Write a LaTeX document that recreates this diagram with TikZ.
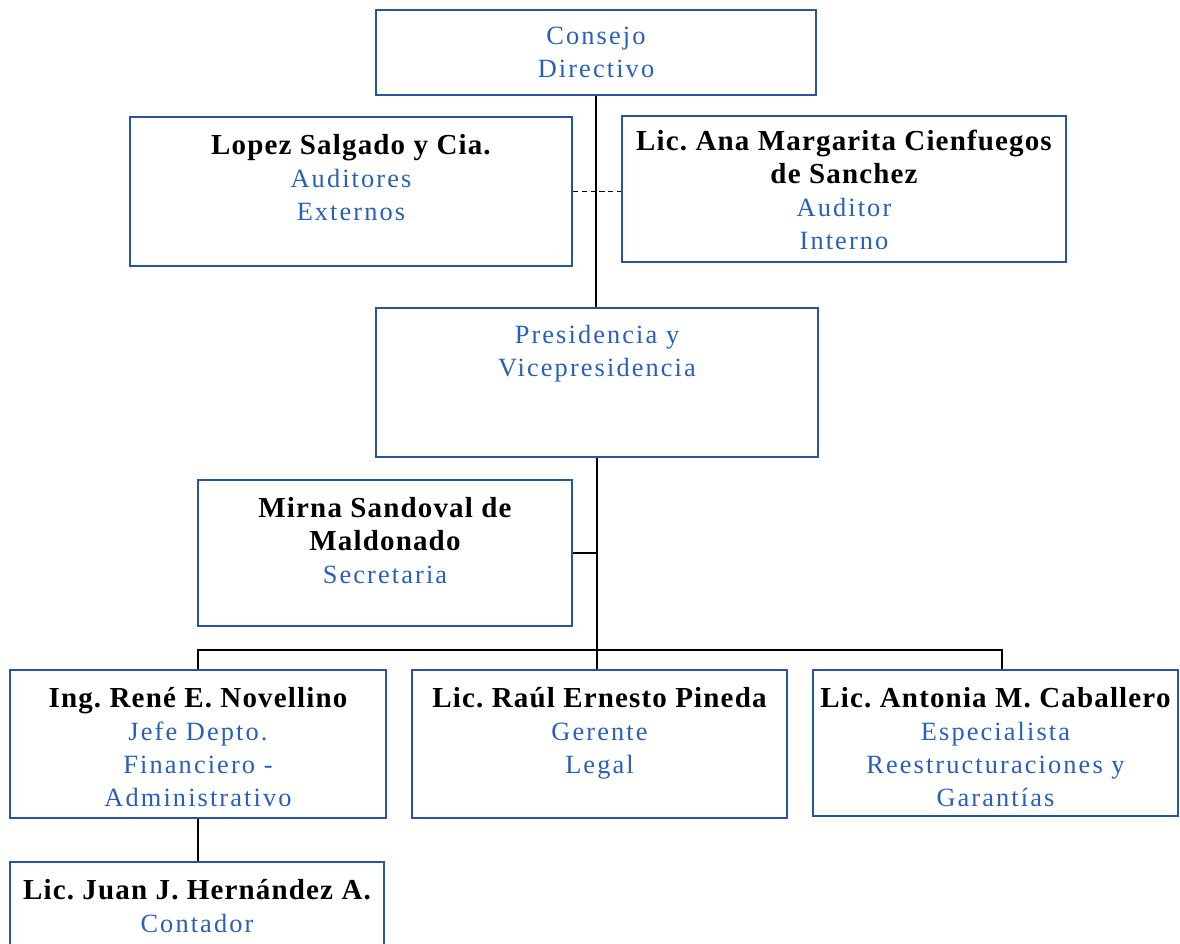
\documentclass[tikz,border=0pt]{standalone}
\usepackage{fontspec}
\setmainfont{Liberation Serif}
\newfontfamily\titlefont[LetterSpace=8]{Liberation Serif}
\newfontfamily\namefont[LetterSpace=4]{Liberation Serif}
\usepackage{tikz}
\frenchspacing
\definecolor{boxblue}{RGB}{40,85,155}
\definecolor{textblue}{RGB}{40,95,185}
\tikzset{
    orgbox/.style={draw=boxblue, line width=1.1pt, rectangle, inner sep=0pt},
    orgtext/.style={anchor=north, align=center, inner sep=0pt, yshift=-0.36cm,
        font=\fontsize{15}{18.7}\selectfont},
    link/.style={black, line width=1.1pt}}
\newcommand{\who}[1]{{\fontsize{16.5}{18.7}\selectfont\namefont\bfseries #1}}
\newcommand{\job}[1]{{\titlefont\color{textblue}#1}}

\begin{document}
\begin{tikzpicture}
        \clip (0,0) rectangle (23.6,-18.88);

                    \node[orgbox, minimum width=8.8cm, minimum height=1.7cm] (consejo) at (11.92,-1.05) {};
                    \node[orgbox, minimum width=8.84cm, minimum height=2.98cm] (lopez) at (7.02,-3.83) {};
                    \node[orgbox, minimum width=8.88cm, minimum height=2.92cm] (ana) at (16.88,-3.78) {};
                    \node[orgbox, minimum width=8.84cm, minimum height=2.98cm] (presid) at (11.94,-7.65) {};
                    \node[orgbox, minimum width=7.48cm, minimum height=2.92cm] (mirna) at (7.7,-11.06) {};
                    \node[orgbox, minimum width=7.52cm, minimum height=2.96cm] (rene) at (3.96,-14.88) {};
                    \node[orgbox, minimum width=7.5cm, minimum height=2.96cm] (raul) at (11.99,-14.88) {};
                    \node[orgbox, minimum width=7.3cm, minimum height=2.92cm] (antonia) at (19.91,-14.86) {};
                    \node[orgbox, minimum width=7.48cm, minimum height=2.96cm] (juan) at (3.94,-18.72) {};

                    \node[orgtext] (consejo-t) at (consejo.north) {\job{Consejo}\\ \job{Directivo}};
                    \node[orgtext] (lopez-t) at (lopez.north) {\who{Lopez Salgado y Cia.}\\ \job{Auditores}\\ \job{Externos}};
                    \node[orgtext, yshift=0.06cm] (ana-t) at (ana.north) {\who{Lic. Ana Margarita Cienfuegos}\\ \who{de Sanchez}\\ \job{Auditor}\\ \job{Interno}};
                    \node[orgtext] (presid-t) at (presid.north) {\job{Presidencia y}\\ \job{Vicepresidencia}};
                    \node[orgtext] (mirna-t) at (mirna.north) {\who{Mirna Sandoval de}\\ \who{Maldonado}\\ \job{Secretaria}};
                    \node[orgtext] (rene-t) at (rene.north) {\who{Ing. René E. Novellino}\\ \job{Jefe Depto.}\\ \job{Financiero -}\\ \job{Administrativo}};
                    \node[orgtext] (raul-t) at (raul.north) {\who{Lic. Raúl Ernesto Pineda}\\ \job{Gerente}\\ \job{Legal}};
                    \node[orgtext] (antonia-t) at (antonia.north) {\who{Lic. Antonia M. Caballero}\\ \job{Especialista}\\ \job{Reestructuraciones y}\\ \job{Garantías}};
                    \node[orgtext] (juan-t) at (juan.north) {\who{Lic. Juan J. Hernández A.}\\ \job{Contador}};

                    \coordinate (bus) at (11.94,-13);

                    \draw[link] (consejo.south) -- (consejo.south |- presid.north);
                    \draw[link, densely dashed] (lopez.east) -- (lopez.east -| ana.west);
                    \draw[link] (presid.south) -- (presid.south |- raul.north);
                    \draw[link] (mirna.east) -- (mirna.east -| presid.south);
                    \draw[link] (rene.north) |- (bus) -| ([xshift=0.13cm]antonia.north);
                    \draw[link] (rene.south) -- (rene.south |- juan.north);

                \end{tikzpicture}
\end{document}
